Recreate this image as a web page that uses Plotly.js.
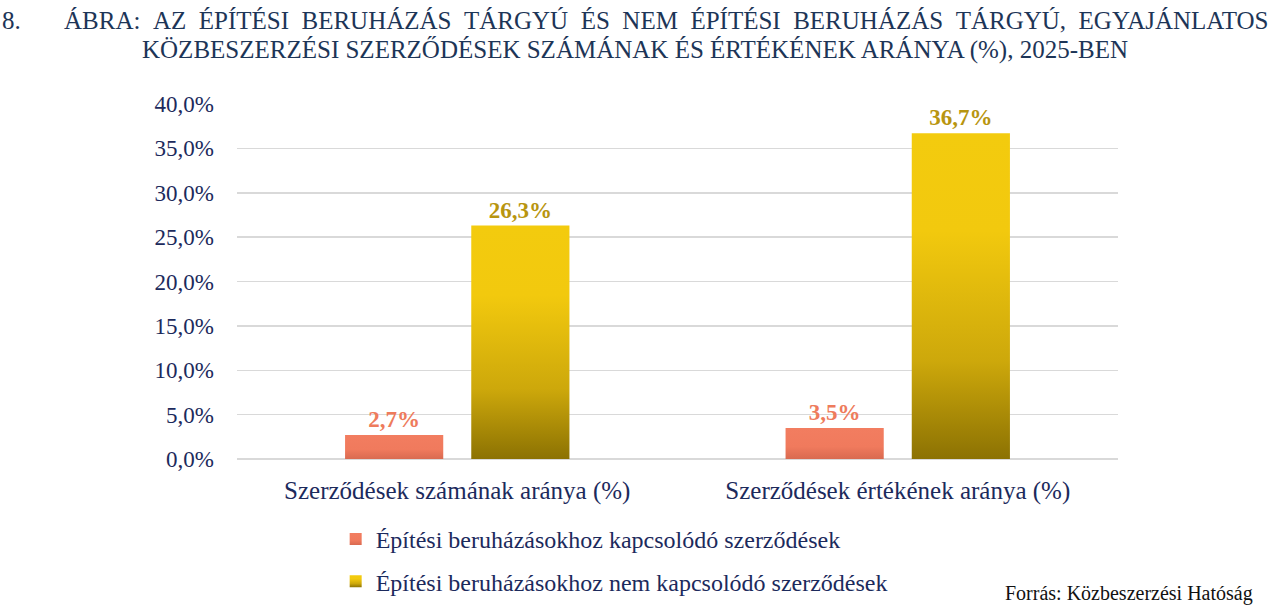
<!DOCTYPE html>
<html>
<head>
<meta charset="utf-8">
<script src="https://cdn.plot.ly/plotly-3.0.1.min.js"></script>
<style>
  body { margin: 0; background: #fff; }
  #chart { width: 1280px; height: 615px; }
</style>
</head>
<body>
<div id="chart"></div>
<script>
// categories and values (percent)
const categories = ["Szerződések számának aránya (%)", "Szerződések értékének aránya (%)"];
const seriesNames = ["Építési beruházásokhoz kapcsolódó szerződések", "Építési beruházásokhoz nem kapcsolódó szerződések"];
const epitesi = [2.7, 3.5];
const nemEpitesi = [26.3, 36.7];
const figNumber = "8.";
const titleLines = [
    "ÁBRA: AZ ÉPÍTÉSI BERUHÁZÁS TÁRGYÚ ÉS NEM ÉPÍTÉSI BERUHÁZÁS TÁRGYÚ, EGYAJÁNLATOS",
    "KÖZBESZERZÉSI SZERZŐDÉSEK SZÁMÁNAK ÉS ÉRTÉKÉNEK ARÁNYA (%), 2025-BEN"
];
const source = "Forrás: Közbeszerzési Hatóság";

const serif = '"Palatino Linotype", "Book Antiqua", Palatino, "Liberation Serif", "DejaVu Serif", serif';
const navy = "#1c2a5c";

// widen word gaps a bit, the original title line is justified
function justify(s, n) {
    return s.split(' ').join(' ' + '&nbsp;'.repeat(n));
}

const traces = [
    {
        x: categories,
        y: epitesi,
        type: 'bar',
        name: seriesNames[0],
        legendgroup: 'a',
        marker: {color: '#ef7b5e'},
        texttemplate: '%{y:.1f}%',
        textposition: 'outside',
        cliponaxis: false,
        textfont: {family: serif, size: 23, color: '#ee7b5c', weight: 'bold'},
        hoverinfo: 'skip'
    },
    {
        x: categories,
        y: nemEpitesi,
        type: 'bar',
        name: seriesNames[1],
        legendgroup: 'b',
        marker: {color: '#d9b30c'},
        texttemplate: '%{y:.1f}%',
        textposition: 'outside',
        cliponaxis: false,
        textfont: {family: serif, size: 23, color: '#b8950f', weight: 'bold'},
        hoverinfo: 'skip'
    }
];

const titleFont = {family: serif, size: 25, color: '#1d3557'};

const layout = {
    width: 1280,
    height: 615,
    separators: ', ',
    font: {family: serif, color: navy},
    paper_bgcolor: '#ffffff',
    plot_bgcolor: '#ffffff',
    margin: {l: 237, r: 162, t: 104, b: 155},
    barmode: 'group',
    bargap: 0.427,
    bargroupgap: 0.222,
    xaxis: {
        showline: false,
        showgrid: false,
        ticks: '',
        ticklabelstandoff: 14,
        tickfont: {family: serif, size: 25, color: navy}
    },
    yaxis: {
        range: [0, 40],
        dtick: 5,
        tickformat: '.1f',
        ticksuffix: '%',
        showgrid: true,
        gridcolor: '#d9d9d9',
        gridwidth: 1.5,
        zeroline: true,
        zerolinecolor: '#d9d9d9',
        zerolinewidth: 1.5,
        showline: false,
        ticks: '',
        ticklabelstandoff: 22,
        tickfont: {family: serif, size: 23, color: navy}
    },
    showlegend: true,
    legend: {
        orientation: 'v',
        x: 0.112,
        xanchor: 'left',
        y: -0.16,
        yanchor: 'top',
        traceorder: 'grouped',
        tracegroupgap: 8,
        itemwidth: 30,
        font: {family: serif, size: 24, color: navy}
    },
    annotations: [
        {
            text: figNumber,
            xref: 'paper', yref: 'paper',
            x: -0.269, y: 1.236,
            xanchor: 'left', yanchor: 'middle',
            showarrow: false,
            font: titleFont
        },
        {
            text: justify(titleLines[0], 1),
            xref: 'paper', yref: 'paper',
            x: 1.172, y: 1.236,
            xanchor: 'right', yanchor: 'middle',
            showarrow: false,
            font: titleFont
        },
        {
            text: titleLines[1],
            xref: 'paper', yref: 'paper',
            x: 0.452, y: 1.152,
            xanchor: 'center', yanchor: 'middle',
            showarrow: false,
            font: titleFont
        },
        {
            text: source,
            xref: 'paper', yref: 'paper',
            x: 1.155, y: -0.378,
            xanchor: 'right', yanchor: 'middle',
            showarrow: false,
            font: {family: serif, size: 20, color: '#111111'}
        }
    ]
};

Plotly.newPlot('chart', traces, layout, {displayModeBar: false, staticPlot: true}).then(function (gd) {
    // Excel-style gradient fills on the bars
    const svg = gd.querySelector('svg.main-svg');
    const ns = 'http://www.w3.org/2000/svg';
    let defs = svg.querySelector('defs');
    if (!defs) {
        defs = document.createElementNS(ns, 'defs');
        svg.insertBefore(defs, svg.firstChild);
    }
    function addGradient(id, stops) {
        const g = document.createElementNS(ns, 'linearGradient');
        g.setAttribute('id', id);
        g.setAttribute('x1', '0'); g.setAttribute('y1', '0');
        g.setAttribute('x2', '0'); g.setAttribute('y2', '1');
        stops.forEach(function (s) {
            const st = document.createElementNS(ns, 'stop');
            st.setAttribute('offset', s[0]);
            st.setAttribute('stop-color', s[1]);
            g.appendChild(st);
        });
        defs.appendChild(g);
    }
    addGradient('gradRed', [[0, '#f27d60'], [0.6, '#f07a5d'], [1, '#d96a50']]);
    addGradient('gradGold', [[0, '#f3cb0e'], [0.3, '#f2c90e'], [0.7, '#cda80b'], [1, '#8c7203']]);

    const barTraces = gd.querySelectorAll('.barlayer .trace');
    const ids = ['gradRed', 'gradGold'];
    barTraces.forEach(function (tr, i) {
        tr.querySelectorAll('.point path').forEach(function (p) {
            p.style.fill = 'url(#' + ids[i] + ')';
        });
    });
    const legendItems = gd.querySelectorAll('.legend .traces');
    legendItems.forEach(function (tr, i) {
        tr.querySelectorAll('.legendpoints path').forEach(function (p) {
            p.style.fill = 'url(#' + ids[i] + ')';
        });
    });
});
</script>
</body>
</html>
